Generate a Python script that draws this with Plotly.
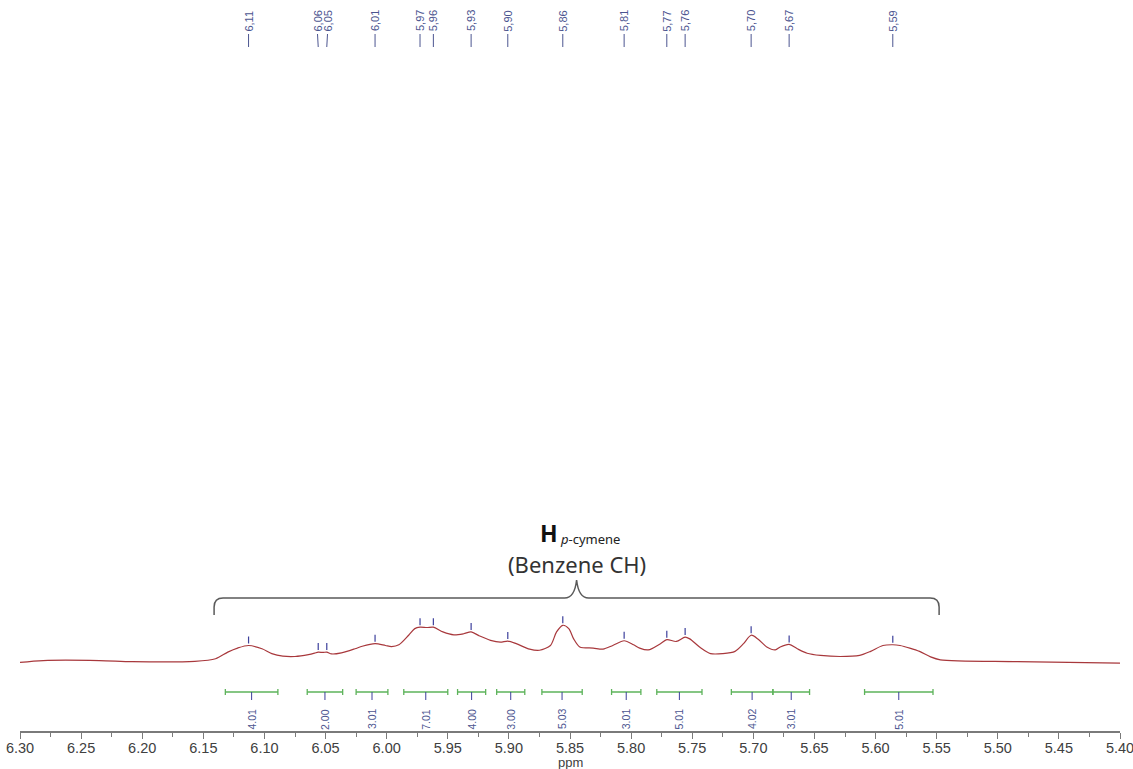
import numpy as np
import plotly.graph_objects as go

# 1H NMR trace, aromatic p-cymene region (chemical shift in ppm, relative intensity)
shift_ppm = [6.300, 6.281, 6.235, 6.208, 6.157, 6.140, 6.130, 6.122, 6.113, 6.102,
             6.094, 6.085, 6.075, 6.064, 6.059, 6.056, 6.052, 6.049, 6.045, 6.037,
             6.026, 6.020, 6.0095, 6.001, 5.996, 5.990, 5.982, 5.977, 5.9727, 5.967,
             5.9618, 5.954, 5.945, 5.937, 5.9309, 5.924, 5.915, 5.907, 5.9009, 5.894,
             5.883, 5.875, 5.866, 5.861, 5.8559, 5.851, 5.847, 5.842, 5.831, 5.823,
             5.815, 5.8057, 5.798, 5.793, 5.786, 5.776, 5.7708, 5.763, 5.7558, 5.752,
             5.744, 5.735, 5.725, 5.715, 5.708, 5.7018, 5.696, 5.689, 5.682, 5.678,
             5.6707, 5.664, 5.656, 5.645, 5.629, 5.613, 5.604, 5.594, 5.5859, 5.580,
             5.572, 5.564, 5.555, 5.547, 5.484, 5.400]
intensity = [-1, 4, 4, 1, 2, 9, 27, 38, 45, 36,
             23, 16, 15, 20, 24, 27, 26, 27, 22, 25,
             36, 43, 50, 45, 42, 47, 73, 91, 95, 94,
             95, 82, 74, 77, 82, 71, 59, 54, 57, 50,
             35, 32, 45, 82, 100, 91, 63, 41, 38, 35,
             45, 58, 47, 38, 33, 50, 61, 56, 68, 63,
             41, 23, 23, 29, 50, 73, 62, 41, 33, 41,
             48, 36, 24, 18, 15, 18, 29, 45, 47, 45,
             38, 29, 14, 6, 1, -3]

# picked peaks
peaks_ppm = [6.113, 6.056, 6.049, 6.0095, 5.9727, 5.9618, 5.9309, 5.9009,
             5.8559, 5.8057, 5.7708, 5.7558, 5.7018, 5.6707, 5.5859]

# integral regions and their values
integral_start = [6.132, 6.065, 6.025, 5.986, 5.942, 5.910, 5.873, 5.816, 5.779, 5.718, 5.684, 5.609]
integral_end = [6.089, 6.036, 5.999, 5.950, 5.919, 5.887, 5.840, 5.792, 5.742, 5.684, 5.654, 5.553]
integral_value = [4.01, 2.00, 3.01, 7.01, 4.00, 3.00, 5.03, 3.01, 5.01, 4.02, 3.01, 5.01]

# bracket spanning the benzene CH multiplets
bracket_span = (6.1412, 5.548)

X_RANGE = [6.30, 5.40]
Y_RANGE = [-188, 1804]

LINE_RED = "#a8383c"
PEAK_BLUE = "#3c3f9c"
LABEL_BLUE = "#4c5590"
INT_GREEN = "#5db35a"
AXIS_GREY = "#7a7a7a"
AXIS_FONT = "Liberation Sans, Arial"

fig = go.Figure()
fig.add_trace(go.Scatter(
    x=shift_ppm, y=intensity, mode="lines",
    line=dict(color=LINE_RED, width=1.2, shape="spline", smoothing=0.8),
    hoverinfo="skip", showlegend=False,
))

shapes = []
annotations = []

# peak ticks just above the trace
asc_x = np.array(shift_ppm[::-1])
asc_y = np.array(intensity[::-1])
for p in peaks_ppm:
    h = float(np.interp(p, asc_x, asc_y))
    shapes.append(dict(type="line", xref="x", yref="y", ysizemode="pixel", yanchor=h,
                       x0=p, x1=p, y0=2, y1=9, line=dict(color=PEAK_BLUE, width=1.2)))

# spread the peak labels so neighbouring ones do not collide
ppm_per_px = (X_RANGE[0] - X_RANGE[1]) / 1100.0
min_gap = 10 * ppm_per_px
label_x = list(peaks_ppm)
for _ in range(20):
    for i in range(len(label_x) - 1):
        gap = label_x[i] - label_x[i + 1]
        if gap < min_gap:
            d = (min_gap - gap) / 2
            label_x[i] += d
            label_x[i + 1] -= d

for p, lx in zip(peaks_ppm, label_x):
    annotations.append(dict(
        x=lx, xref="x", y=1, yref="paper", yshift=-21, xanchor="center", yanchor="middle",
        text=f"{p:.2f}".replace(".", ","), textangle=-90, showarrow=False,
        font=dict(family=AXIS_FONT, size=11, color=LABEL_BLUE)))
    shapes.append(dict(type="line", xref="x", yref="paper", ysizemode="pixel", yanchor=1,
                       x0=lx, x1=p, y0=-34, y1=-47, line=dict(color=LABEL_BLUE, width=1)))

# integral bars with end caps, centre tick and value
for a, b, v in zip(integral_start, integral_end, integral_value):
    mid = (a + b) / 2
    shapes.append(dict(type="line", xref="x", yref="paper", ysizemode="pixel", yanchor=0,
                       x0=a, x1=b, y0=39, y1=39, line=dict(color=INT_GREEN, width=1.5)))
    for e in (a, b):
        shapes.append(dict(type="line", xref="x", yref="paper", ysizemode="pixel", yanchor=0,
                           x0=e, x1=e, y0=36, y1=42, line=dict(color=INT_GREEN, width=1.3)))
    shapes.append(dict(type="line", xref="x", yref="paper", ysizemode="pixel", yanchor=0,
                       x0=mid, x1=mid, y0=39, y1=31, line=dict(color=PEAK_BLUE, width=1)))
    annotations.append(dict(
        x=mid, xref="x", y=0, yref="paper", yshift=12, xanchor="center", yanchor="middle",
        text=f"{v:.2f}", textangle=-90, showarrow=False,
        font=dict(family=AXIS_FONT, size=10.5, color=LABEL_BLUE)))

# curly bracket over the multiplet region
left, right = bracket_span
centre = (left + right) / 2
r = 9 * ppm_per_px
c = 12 * ppm_per_px
path = (f"M {left},-615 L {left},-607 Q {left},-598 {left - r},-598 "
        f"L {centre + c},-598 Q {centre + 2 * ppm_per_px},-598 {centre},-580 "
        f"Q {centre - 2 * ppm_per_px},-598 {centre - c},-598 "
        f"L {right + r},-598 Q {right},-598 {right},-607 L {right},-615")
shapes.append(dict(type="path", xref="x", yref="paper", ysizemode="pixel", yanchor=1,
                   path=path, line=dict(color="#5a5a5a", width=1.5)))

# bracket label
annotations.append(dict(
    x=centre, xref="x", xshift=-28, y=1, yref="paper", yshift=-533,
    xanchor="center", yanchor="middle", text="<b>H</b>", showarrow=False,
    font=dict(family="Noto Sans", size=23, color="#111111")))
annotations.append(dict(
    x=centre, xref="x", xshift=-19, y=1, yref="paper", yshift=-539,
    xanchor="left", yanchor="middle", text="<i>p</i>-cymene", showarrow=False,
    font=dict(family="Noto Sans", size=13, color="#222222")))
annotations.append(dict(
    x=centre, xref="x", y=1, yref="paper", yshift=-564, xanchor="center", yanchor="middle",
    text="(Benzene CH)", showarrow=False,
    font=dict(family="Noto Sans", size=22, color="#333333")))

# axis title
annotations.append(dict(
    x=0.5, xref="paper", y=0, yref="paper", yshift=-31, xanchor="center", yanchor="middle",
    text="ppm", showarrow=False, font=dict(family=AXIS_FONT, size=13, color="#404040")))

fig.update_layout(
    width=1133, height=769,
    margin=dict(l=20, r=13, t=0, b=38),
    paper_bgcolor="white", plot_bgcolor="white",
    shapes=shapes, annotations=annotations,
    xaxis=dict(
        range=X_RANGE, showgrid=False, zeroline=False,
        showline=True, linecolor=AXIS_GREY, linewidth=1.5,
        ticks="outside", ticklen=6, tickwidth=1.3, tickcolor=AXIS_GREY,
        tick0=5.40, dtick=0.05, tickformat=".2f",
        ticklabeloverflow="allow", ticklabelstandoff=-3,
        tickfont=dict(family=AXIS_FONT, size=14.5, color="#404040"),
        minor=dict(dtick=0.025, ticks="outside", ticklen=4, tickcolor=AXIS_GREY, tickwidth=1.2),
    ),
    yaxis=dict(visible=False, range=Y_RANGE),
)

fig.write_html("out.html")
